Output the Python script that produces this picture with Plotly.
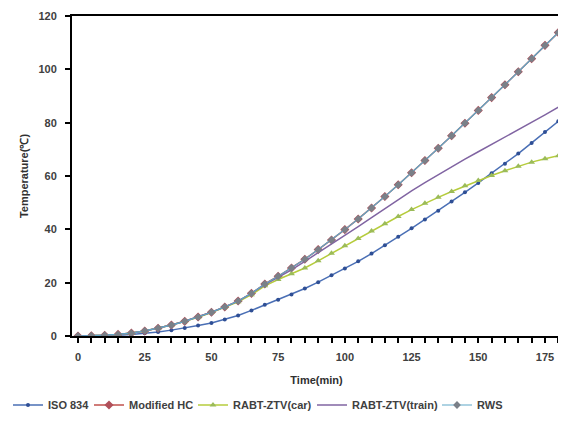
import plotly.graph_objects as go

time_min = list(range(0, 181, 5))

iso834 = [0, 0.05, 0.15, 0.3, 0.6, 1.0, 1.5, 2.2, 3.0, 3.9, 4.9, 6.2, 7.7, 9.6, 11.7, 13.6,
          15.6, 17.8, 20.2, 22.8, 25.3, 28.0, 30.9, 34.0, 37.2, 40.4, 43.7, 47.0, 50.4,
          53.9, 57.4, 61.0, 64.6, 68.4, 72.4, 76.5, 80.5]
modified_hc = [0, 0.1, 0.3, 0.6, 1.1, 1.9, 2.9, 4.1, 5.5, 7.1, 8.9, 10.9, 13.1, 16.0, 19.5,
               22.4, 25.5, 28.8, 32.4, 36.0, 39.9, 43.9, 48.0, 52.3, 56.7, 61.2, 65.8, 70.4,
               75.1, 79.8, 84.6, 89.4, 94.2, 99.1, 104.0, 109.0, 113.8]
rabt_car = [0, 0.1, 0.3, 0.6, 1.1, 1.9, 2.9, 4.1, 5.5, 7.0, 8.8, 10.7, 12.8, 15.5, 18.8,
            21.2, 23.3, 25.5, 28.2, 31.0, 33.8, 36.6, 39.4, 42.1, 44.8, 47.4, 49.8, 52.0,
            54.2, 56.3, 58.3, 60.2, 62.0, 63.7, 65.2, 66.5, 67.6]
rabt_train = [0, 0.1, 0.3, 0.6, 1.1, 1.9, 2.9, 4.1, 5.5, 7.1, 8.9, 10.9, 13.1, 16.0, 19.3,
              22.0, 24.8, 28.0, 31.2, 34.4, 37.7, 41.0, 44.4, 47.8, 51.2, 54.4, 57.5, 60.5,
              63.4, 66.3, 69.1, 71.8, 74.5, 77.2, 80.0, 82.9, 85.8]
rws = modified_hc[:]

series_names = ["ISO 834", "Modified HC", "RABT-ZTV(car)", "RABT-ZTV(train)", "RWS"]
x_tick_vals = [0, 25, 50, 75, 100, 125, 150, 175]
y_tick_vals = [0, 20, 40, 60, 80, 100, 120]

font_family = "Liberation Sans, Arial, sans-serif"
W, H = 566, 428

fig = go.Figure()
fig.add_trace(go.Scatter(x=time_min, y=iso834, name=series_names[0], mode="lines+markers",
                         legend="legend",
                         line=dict(color="#4a6fb5", width=1.5),
                         marker=dict(symbol="circle", size=4, color="#2f4f95")))
fig.add_trace(go.Scatter(x=time_min, y=modified_hc, name=series_names[1], mode="lines+markers",
                         legend="legend2",
                         line=dict(color="#c0504d", width=1.5),
                         marker=dict(symbol="diamond", size=7, color="#b0505a")))
fig.add_trace(go.Scatter(x=time_min, y=rabt_car, name=series_names[2], mode="lines+markers",
                         legend="legend3",
                         line=dict(color="#b6cc3c", width=1.5),
                         marker=dict(symbol="triangle-up", size=6, color="#9bbb59")))
fig.add_trace(go.Scatter(x=time_min, y=rabt_train, name=series_names[3], mode="lines",
                         legend="legend4",
                         line=dict(color="#8064a2", width=1.5)))
fig.add_trace(go.Scatter(x=time_min, y=rws, name=series_names[4], mode="lines+markers",
                         legend="legend5",
                         line=dict(color="#5fa8c8", width=1.2),
                         marker=dict(symbol="diamond", size=6, color="#7a8088")))

legend_font = dict(size=11, color="#404040", weight="bold")
legend_x_px = [0, 81, 185, 304, 429]
legend_y = 1 - 397 / H


def legend_cfg(xpx):
    return dict(orientation="h", xref="container", x=xpx / W, xanchor="left",
                yref="container", y=legend_y, yanchor="middle",
                font=legend_font, itemwidth=30, bgcolor="rgba(0,0,0,0)")


fig.update_layout(
    width=W, height=H,
    margin=dict(l=64, r=13, t=8, b=100, autoexpand=False),
    paper_bgcolor="white", plot_bgcolor="white",
    font=dict(family=font_family, size=11, color="#404040"),
    showlegend=True,
    legend=legend_cfg(legend_x_px[0]),
    legend2=legend_cfg(legend_x_px[1]),
    legend3=legend_cfg(legend_x_px[2]),
    legend4=legend_cfg(legend_x_px[3]),
    legend5=legend_cfg(legend_x_px[4]),
)
fig.update_xaxes(
    range=[-2.25, 181], tickmode="array", tickvals=x_tick_vals,
    ticktext=[str(v) for v in x_tick_vals],
    ticks="outside", ticklen=5, tickwidth=1.5, tickcolor="black", ticklabelstandoff=5,
    minor=dict(dtick=5, tick0=0, ticks="outside", ticklen=5, tickwidth=1.5, tickcolor="black"),
    showline=True, linecolor="black", linewidth=2, mirror=True,
    showgrid=False, zeroline=False, automargin=True,
    title=dict(text="Time(min)", font=dict(size=11, color="#303030", weight="bold"), standoff=14),
    tickfont=dict(size=11, color="#404040", weight="bold"),
)
fig.update_yaxes(
    range=[0, 120], tickmode="array", tickvals=y_tick_vals,
    ticks="outside", ticklen=5, tickwidth=1.5, tickcolor="black", ticklabelstandoff=6,
    showline=True, linecolor="black", linewidth=2, mirror=True,
    showgrid=False, zeroline=False, automargin=True,
    title=dict(text="Temperature(℃)", font=dict(size=11, color="#303030", weight="bold"), standoff=8),
    tickfont=dict(size=11, color="#404040", weight="bold"),
)

fig.write_html("out.html")
